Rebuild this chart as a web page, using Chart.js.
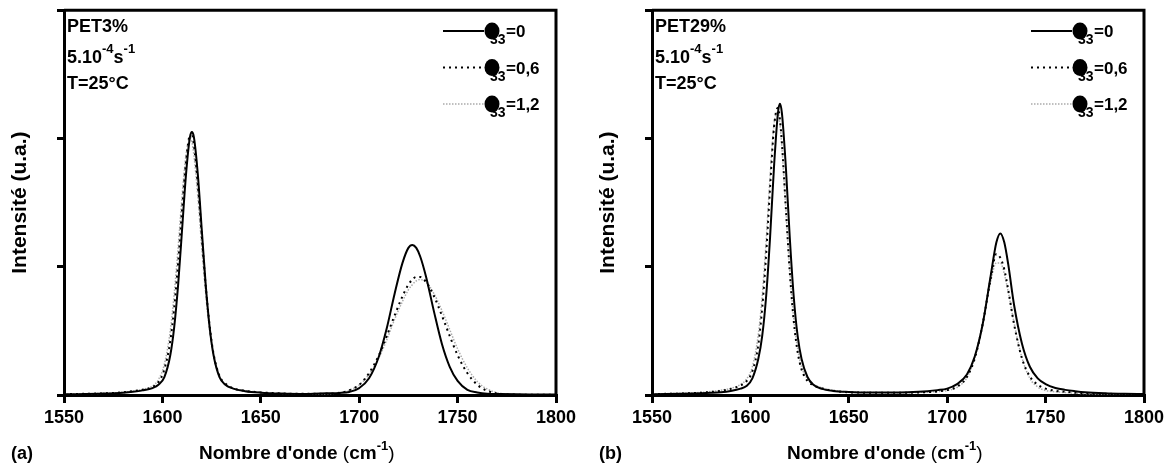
<!DOCTYPE html>
<html>
<head>
<meta charset="utf-8">
<script src="https://cdn.jsdelivr.net/npm/chart.js@4.4.0/dist/chart.umd.min.js"></script>
<style>
    body { margin: 0; background: #fff; }
    canvas { position: absolute; top: 0; }
</style>
</head>
<body>
<canvas id="chart-a" width="588" height="472" style="left:0"></canvas>
<canvas id="chart-b" width="583" height="472" style="left:588px"></canvas>
<script>
// wavenumbers (cm-1) where the curves were read
const WN = [1550, 1570, 1580, 1585, 1590, 1595, 1598, 1601, 1604, 1606,
    1608, 1610, 1612, 1614, 1615, 1616, 1618, 1620, 1622, 1624,
    1626, 1629, 1632, 1636, 1642, 1650, 1660, 1670, 1680, 1690,
    1695, 1700, 1705, 1710, 1714, 1718, 1722, 1725, 1727, 1729,
    1731, 1734, 1738, 1742, 1746, 1750, 1755, 1760, 1765, 1770,
    1780, 1790, 1800];

// (a) PET3%
const PET3_E0 = [0.005, 0.011, 0.018, 0.025, 0.036, 0.054, 0.08, 0.14, 0.31, 0.53,
    0.86, 1.29, 1.72, 2.01, 2.05, 2.01, 1.72, 1.29, 0.86, 0.53,
    0.31, 0.14, 0.08, 0.05, 0.03, 0.018, 0.011, 0.008, 0.012, 0.016,
    0.024, 0.054, 0.13, 0.30, 0.52, 0.79, 1.03, 1.147, 1.17, 1.147,
    1.08, 0.92, 0.65, 0.40, 0.22, 0.11, 0.04, 0.02, 0.01, 0.008,
    0.005, 0.004, 0.003];
const PET3_E06 = [0.006, 0.013, 0.021, 0.03, 0.041, 0.063, 0.10, 0.20, 0.42, 0.68,
    1.03, 1.45, 1.82, 2.02, 2.02, 1.95, 1.64, 1.24, 0.85, 0.54,
    0.32, 0.15, 0.09, 0.052, 0.033, 0.02, 0.013, 0.009, 0.01, 0.017,
    0.037, 0.08, 0.17, 0.31, 0.46, 0.62, 0.77, 0.86, 0.90, 0.92,
    0.92, 0.88, 0.77, 0.62, 0.46, 0.31, 0.17, 0.08, 0.033, 0.012,
    0.003, 0.002, 0.001];
const PET3_E12 = [0.006, 0.013, 0.022, 0.03, 0.045, 0.07, 0.12, 0.24, 0.50, 0.79,
    1.15, 1.55, 1.87, 2.00, 1.97, 1.87, 1.55, 1.15, 0.79, 0.50,
    0.31, 0.15, 0.08, 0.052, 0.034, 0.02, 0.013, 0.009, 0.008, 0.018,
    0.037, 0.078, 0.16, 0.29, 0.43, 0.59, 0.73, 0.82, 0.86, 0.89,
    0.90, 0.88, 0.79, 0.66, 0.51, 0.36, 0.21, 0.105, 0.047, 0.019,
    0.002, 0.001, 0.001];

// (b) PET29%
const PET29_E0 = [0.006, 0.011, 0.017, 0.022, 0.032, 0.05, 0.07, 0.13, 0.28, 0.46,
    0.77, 1.23, 1.78, 2.20, 2.27, 2.20, 1.78, 1.23, 0.77, 0.46,
    0.28, 0.14, 0.08, 0.05, 0.032, 0.024, 0.02, 0.02, 0.022, 0.03,
    0.038, 0.05, 0.085, 0.16, 0.30, 0.55, 0.92, 1.19, 1.26, 1.19,
    1.02, 0.70, 0.40, 0.22, 0.13, 0.085, 0.055, 0.04, 0.03, 0.022,
    0.014, 0.01, 0.008];
const PET29_E06 = [0.007, 0.014, 0.024, 0.033, 0.048, 0.074, 0.107, 0.185, 0.39, 0.68,
    1.10, 1.62, 2.09, 2.24, 2.15, 1.97, 1.46, 0.96, 0.58, 0.335,
    0.20, 0.11, 0.077, 0.053, 0.034, 0.021, 0.018, 0.017, 0.018, 0.022,
    0.028, 0.038, 0.065, 0.14, 0.285, 0.55, 0.90, 1.10, 1.07, 0.98,
    0.82, 0.55, 0.285, 0.145, 0.08, 0.05, 0.033, 0.025, 0.018, 0.014,
    0.01, 0.007, 0.005];
const PET29_E12 = [0.008, 0.016, 0.027, 0.037, 0.052, 0.082, 0.124, 0.22, 0.47, 0.77,
    1.20, 1.70, 2.11, 2.21, 2.11, 1.93, 1.45, 0.975, 0.60, 0.36,
    0.22, 0.124, 0.082, 0.058, 0.037, 0.024, 0.021, 0.018, 0.018, 0.023,
    0.027, 0.035, 0.06, 0.135, 0.29, 0.56, 0.88, 1.03, 1.03, 0.945,
    0.805, 0.56, 0.29, 0.13, 0.063, 0.035, 0.025, 0.019, 0.014, 0.011,
    0.007, 0.005, 0.004];

const EPS_LABELS = ['0', '0,6', '1,2'];

const FONT = "'Liberation Sans', Arial, sans-serif";
const LINE_STYLES = [
    { borderColor: '#000', borderWidth: 2, borderDash: [] },
    { borderColor: '#000', borderWidth: 2, borderDash: [2, 4] },
    { borderColor: '#ababab', borderWidth: 1.5, borderDash: [1.5, 1.5] }
];

// write a row of text pieces (for superscripts / subscripts)
function drawParts(ctx, x, y, parts) {
    parts.forEach(p => {
        ctx.font = p.font;
        ctx.fillText(p.t, x, y + (p.dy || 0));
        x += ctx.measureText(p.t).width;
    });
    return x;
}

const decorPlugin = {
    id: 'decor',
    afterDraw(chart, args, opts) {
        const ctx = chart.ctx;
        const area = chart.chartArea;
        const b18 = 'bold 18px ' + FONT;
        const b19 = 'bold 19px ' + FONT;
        const b13 = 'bold 13px ' + FONT;
        ctx.save();

        // top and right frame
        ctx.strokeStyle = '#000';
        ctx.lineWidth = 3;
        ctx.beginPath();
        ctx.moveTo(area.left, area.top);
        ctx.lineTo(area.right, area.top);
        ctx.lineTo(area.right, area.bottom);
        ctx.stroke();

        ctx.fillStyle = '#000';
        ctx.textAlign = 'left';
        ctx.textBaseline = 'alphabetic';

        // sample notes
        drawParts(ctx, 67, 32, [{ t: opts.sample, font: b18 }]);
        drawParts(ctx, 67, 63, [
            { t: '5.10', font: b18 },
            { t: '-4', font: b13, dy: -10 },
            { t: 's', font: b18 },
            { t: '-1', font: b13, dy: -10 }
        ]);
        drawParts(ctx, 67, 89, [{ t: 'T=25°C', font: b18 }]);

        // legend
        chart.data.datasets.forEach((ds, i) => {
            const y = 31 + i * 36.5;
            ctx.beginPath();
            ctx.strokeStyle = ds.borderColor;
            ctx.lineWidth = ds.borderWidth;
            ctx.setLineDash(ds.borderDash);
            ctx.moveTo(443, y);
            ctx.lineTo(484, y);
            ctx.stroke();
            ctx.setLineDash([]);
            ctx.fillStyle = '#000';
            ctx.beginPath();
            ctx.ellipse(492, y, 7.5, 8.5, 0, 0, Math.PI * 2);
            ctx.fill();
            drawParts(ctx, 490, y + 13, [{ t: '33', font: 'bold 14px ' + FONT }]);
            drawParts(ctx, 506, y + 6, [{ t: '=' + EPS_LABELS[i], font: 'bold 17px ' + FONT }]);
        });

        // x axis title and panel letter
        drawParts(ctx, 199, 459, [
            { t: "Nombre d'onde ", font: b19 },
            { t: '(', font: '19px ' + FONT },
            { t: 'cm', font: b19 },
            { t: '-1', font: b13, dy: -9 },
            { t: ')', font: '19px ' + FONT }
        ]);
        drawParts(ctx, 11, 459, [{ t: opts.letter, font: b18 }]);
        ctx.restore();
    }
};

function makePanel(canvasId, sample, letter, series, rightPad) {
    const ctx = document.getElementById(canvasId).getContext('2d');
    return new Chart(ctx, {
        type: 'line',
        data: {
            datasets: series.map((vals, i) => ({
                label: 'ε33=' + EPS_LABELS[i],
                data: WN.map((w, k) => ({ x: w, y: vals[k] })),
                borderColor: LINE_STYLES[i].borderColor,
                borderWidth: LINE_STYLES[i].borderWidth,
                borderDash: LINE_STYLES[i].borderDash,
                pointRadius: 0,
                cubicInterpolationMode: 'monotone',
                fill: false
            }))
        },
        options: {
            responsive: false,
            animation: false,
            devicePixelRatio: 1,
            layout: { padding: { top: 10, right: rightPad, left: 0, bottom: 0 } },
            plugins: {
                legend: { display: false },
                tooltip: { enabled: false },
                decor: { sample: sample, letter: letter }
            },
            scales: {
                x: {
                    type: 'linear',
                    min: 1550,
                    max: 1800,
                    afterFit: (scale) => { scale.height = 77; },
                    grid: { drawOnChartArea: false, drawTicks: true, tickLength: 8, lineWidth: 3, color: '#000' },
                    border: { display: true, width: 3, color: '#000' },
                    ticks: {
                        stepSize: 50,
                        maxRotation: 0,
                        padding: 4,
                        color: '#000',
                        font: { family: FONT, size: 18, weight: 'bold' },
                        callback: (v) => String(v)
                    }
                },
                y: {
                    min: 0,
                    max: 3,
                    afterFit: (scale) => { scale.width = 64; },
                    grid: { drawOnChartArea: false, drawTicks: true, tickLength: 7, lineWidth: 3, color: '#000' },
                    border: { display: true, width: 3, color: '#000' },
                    ticks: { stepSize: 1, callback: () => '' },
                    title: {
                        display: true,
                        text: 'Intensité (u.a.)',
                        color: '#000',
                        font: { family: FONT, size: 21, weight: 'bold' },
                        padding: { top: 8, bottom: 0 }
                    }
                }
            }
        },
        plugins: [decorPlugin]
    });
}

makePanel('chart-a', 'PET3%', '(a)', [PET3_E0, PET3_E06, PET3_E12], 32);
makePanel('chart-b', 'PET29%', '(b)', [PET29_E0, PET29_E06, PET29_E12], 27);
</script>
</body>
</html>
